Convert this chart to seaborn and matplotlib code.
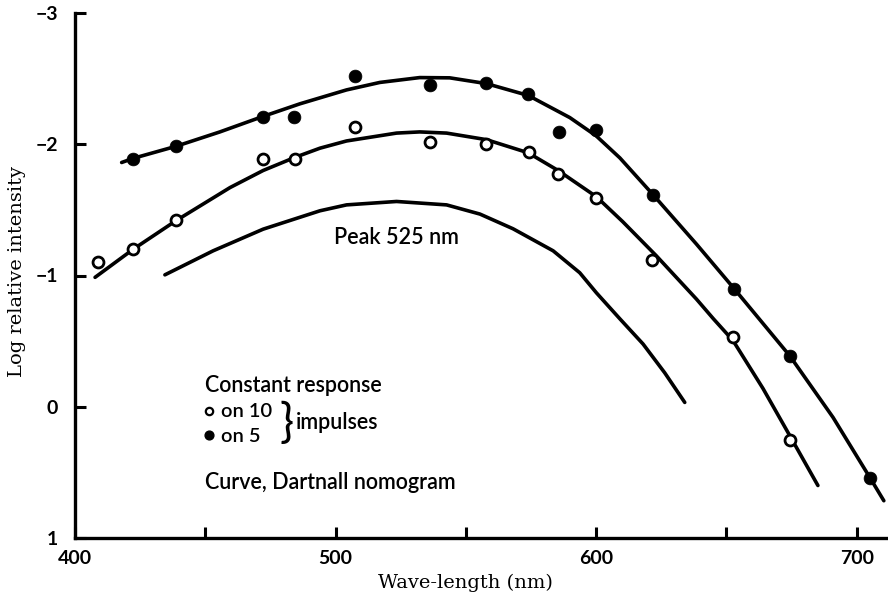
import matplotlib
matplotlib.use("Agg")
import matplotlib.pyplot as plt
import seaborn as sns

# Threshold measurements (log relative intensity) for constant response
wl_on10 = [408.9, 422.4, 438.7, 472.2, 484.4, 507.5, 536.2, 557.9, 574.2,
           585.4, 599.8, 621.4, 652.5, 674.3]
log_on10 = [-1.10, -1.20, -1.42, -1.89, -1.89, -2.13, -2.02, -2.00, -1.94,
            -1.77, -1.59, -1.12, -0.53, 0.25]

wl_on5 = [422.4, 438.7, 472.0, 483.9, 507.5, 536.2, 557.9, 573.9, 585.8,
          600.0, 622.0, 652.9, 674.3, 705.0]
log_on5 = [-1.89, -1.99, -2.21, -2.21, -2.52, -2.45, -2.47, -2.38, -2.09,
           -2.11, -1.61, -0.90, -0.39, 0.54]

# Nomogram curves fitted through each series, and the template (peak 525 nm)
wl_fit5 = [417.9, 422.4, 438.7, 455.6, 472.0, 486.3, 504.2, 517.0, 532.3,
           543.8, 557.9, 573.9, 589.9, 600.0, 609.1, 622.0, 638.5, 652.9,
           674.3, 690.9, 705.0, 710.4]
log_fit5 = [-1.861, -1.893, -1.984, -2.094, -2.211, -2.308, -2.414, -2.471,
            -2.508, -2.506, -2.462, -2.372, -2.203, -2.064, -1.896, -1.612,
            -1.239, -0.901, -0.388, 0.081, 0.538, 0.716]

wl_fit10 = [407.7, 422.4, 438.7, 459.5, 472.2, 484.4, 494.0, 504.2, 523.4,
            532.3, 542.6, 557.9, 573.9, 585.4, 600.1, 610.2, 623.1, 638.5,
            645.0, 652.5, 664.0, 674.3, 685.1]
log_fit10 = [-0.986, -1.201, -1.417, -1.670, -1.800, -1.900, -1.970, -2.025,
             -2.085, -2.094, -2.085, -2.035, -1.935, -1.800, -1.600, -1.410,
             -1.150, -0.820, -0.670, -0.505, -0.140, 0.220, 0.600]

wl_nomo = [434.5, 453.0, 472.2, 494.0, 504.2, 523.4, 542.6, 555.4, 568.1,
           583.5, 593.7, 600.1, 609.1, 618.0, 626.3, 634.0]
log_nomo = [-1.005, -1.188, -1.353, -1.493, -1.538, -1.564, -1.538, -1.468,
            -1.356, -1.188, -1.021, -0.868, -0.670, -0.478, -0.259, -0.033]

x_major = [400, 500, 600, 700]
x_minor = [450, 550, 650]
y_ticks = [-3, -2, -1, 0, 1]
y_ticklabels = ["\u22123", "\u22122", "\u22121", "0", "1"]

sns.set_style("ticks")
plt.rcParams["font.family"] = ["Lato", "DejaVu Sans"]

fig = plt.figure(figsize=(8.88, 5.98), dpi=100)
ax = fig.add_axes([75 / 888, 1 - 538 / 598, 813 / 888, 525 / 598])

line_kw = dict(color="black", linewidth=2.6, sort=False, estimator=None,
               ax=ax, legend=False)
for wl, lg in ((wl_fit5, log_fit5), (wl_fit10, log_fit10),
               (wl_nomo, log_nomo)):
    sns.lineplot(x=wl, y=lg, **line_kw)
for ln in ax.lines:
    ln.set_solid_joinstyle("round")
    ln.set_solid_capstyle("round")

sns.scatterplot(x=wl_on5, y=log_on5, marker="o", s=85, color="black",
                edgecolor="black", linewidth=0.5, zorder=5, ax=ax,
                clip_on=False)
sns.scatterplot(x=wl_on10, y=log_on10, marker="o", s=62, color="white",
                edgecolor="black", linewidth=2.0, zorder=5, ax=ax,
                clip_on=False)

ax.set_xlim(400, 712)
ax.set_ylim(1, -3)

for side in ("top", "right"):
    ax.spines[side].set_visible(False)
for side in ("left", "bottom"):
    ax.spines[side].set_linewidth(2.4)
    ax.spines[side].set_color("black")

ax.set_xticks(x_major)
ax.set_xticks(x_minor, minor=True)
ax.set_yticks(y_ticks)
ax.set_yticklabels(y_ticklabels)
ax.tick_params(axis="both", which="both", direction="in", length=8,
               width=2.2, color="black")
ax.tick_params(axis="x", which="major", pad=9)
ax.tick_params(axis="y", which="major", pad=12)
for lab in ax.get_xticklabels() + ax.get_yticklabels():
    lab.set_fontsize(14)
    lab.set_fontweight("bold")
    lab.set_color("black")

ax.set_xlabel("Wave-length (nm)", family="DejaVu Serif", fontsize=14,
              color="black")
ax.set_ylabel("Log relative intensity", family="DejaVu Serif", fontsize=14,
              color="black")
ax.xaxis.label.set_va("center")
ax.xaxis.set_label_coords(0.48, -0.086)
ax.yaxis.label.set_va("center")
ax.yaxis.set_label_coords(-0.071, 0.508)

txt_kw = dict(fontsize=15.5, fontweight="semibold", color="black",
              va="baseline", ha="left")
key_kw = dict(txt_kw, fontsize=14.5)
ax.text(523.4, -1.239, "Peak 525 nm", ha="center", va="baseline",
        fontsize=15.5, fontweight="semibold", color="black")
ax.text(449.9, -0.109, "Constant response", **txt_kw)
ax.text(456.0, 0.081, "on 10", **key_kw)
ax.text(456.0, 0.267, "on 5", **key_kw)
ax.text(484.6, 0.170, "impulses", **txt_kw)
ax.text(481.2, 0.125, "}", ha="center", va="center", fontsize=34,
        fontweight="normal", color="black")
ax.text(449.9, 0.625, "Curve, Dartnall nomogram", **txt_kw)

ax.scatter([451.3], [0.035], s=28, facecolor="white", edgecolor="black",
           linewidth=1.6, zorder=5)
ax.scatter([451.3], [0.215], s=40, color="black", zorder=5)

fig.savefig("out.png", dpi=100, facecolor="white")
